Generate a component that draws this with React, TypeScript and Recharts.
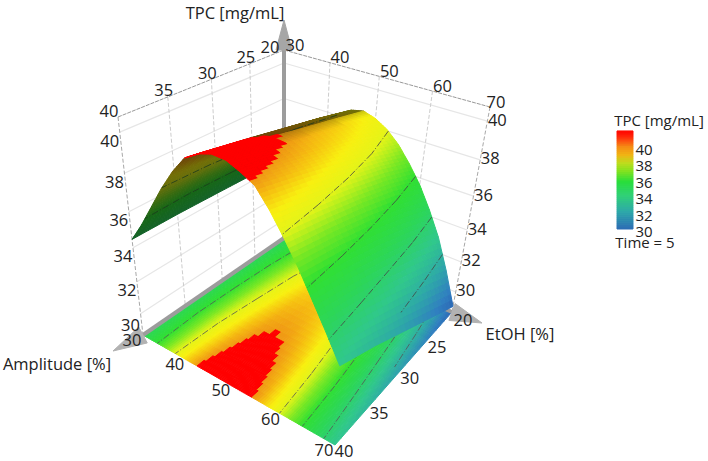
import { ScatterChart, Scatter, XAxis, YAxis } from "recharts";

const WIDTH = 708;
const HEIGHT = 461;

// Factors of the response surface
const amplitudeGrid = [30, 32.5, 35, 37.5, 40, 42.5, 45, 47.5, 50, 52.5, 55, 57.5, 60, 62.5, 65, 67.5, 70];
const etohGrid = [20, 25, 30, 35, 40];

// TPC, one list per EtOH level
const tpcE20 = [34.25, 35.2, 36.05, 36.87, 37.56, 38.1, 38.52, 38.67, 38.46, 38.06, 37.44, 36.59, 35.61, 34.37, 32.95, 31.1, 29.0];
const tpcE25 = [34.37, 35.45, 36.4, 37.25, 38.0, 38.58, 39.0, 39.12, 39.0, 38.67, 38.11, 37.33, 36.38, 35.17, 33.8, 32.1, 30.07];
const tpcE30 = [34.43, 35.62, 36.62, 37.55, 38.33, 38.96, 39.42, 39.55, 39.45, 39.15, 38.67, 37.9, 36.97, 35.84, 34.48, 32.95, 31.1];
const tpcE35 = [34.48, 35.72, 36.82, 37.85, 38.68, 39.38, 39.85, 40.02, 39.95, 39.68, 39.22, 38.41, 37.44, 36.38, 35.05, 33.68, 32.1];
const tpcE40 = [34.48, 35.55, 36.75, 37.95, 39.0, 39.85, 40.25, 40.45, 40.4, 40.1, 39.72, 38.87, 37.85, 36.75, 35.5, 34.25, 32.95];
const tpcRows = [tpcE20, tpcE25, tpcE30, tpcE35, tpcE40];

const amplitudeTicks = [30, 40, 50, 60, 70];
const etohTicks = [20, 25, 30, 35, 40];
const tpcTicks = [30, 32, 34, 36, 38, 40];
const contourLevels = [32, 34, 36, 38];
const legendTicks = [30, 32, 34, 36, 38, 40];

const Z_MIN = 28.6;
const Z_MAX = 40.7;
const RED_FROM = 39.8;

// Box corners on screen
const floorBox = { a30e20: [284, 238], a70e20: [452, 312], a30e40: [143, 335], a70e40: [335, 445] };
const topBox = { a30e20: [284, 50], a70e20: [490, 107], a30e40: [118, 117], a70e40: [350, 195] };

// Perspective foreshortening along each axis
const warp = (s: number, k: number) => s / (s + k * (1 - s));
const warpA = (a: number) => warp((a - 30) / 40, 1.161);
const warpE = (e: number) => warp((40 - e) / 20, 0.778);
const warpZ = (z: number) => warp((z - Z_MIN) / (Z_MAX - Z_MIN), 1.21);

const project = (a: number, e: number, z: number): [number, number] => {
  const u = warpA(a);
  const v = warpE(e);
  const f = warpZ(z);
  const mix = (box: typeof floorBox, i: number) =>
    (1 - u) * (1 - v) * box.a30e40[i] + u * (1 - v) * box.a70e40[i] + (1 - u) * v * box.a30e20[i] + u * v * box.a70e20[i];
  return [mix(floorBox, 0) * (1 - f) + mix(topBox, 0) * f, mix(floorBox, 1) * (1 - f) + mix(topBox, 1) * f];
};

type Stop = [number, number[]];

const surfaceStops: Stop[] = [
  [28.6, [42, 92, 176]],
  [30, [48, 128, 192]],
  [31.5, [46, 168, 168]],
  [33, [48, 200, 140]],
  [34.5, [44, 214, 90]],
  [36, [48, 224, 50]],
  [37, [120, 232, 36]],
  [38, [228, 244, 24]],
  [38.7, [248, 240, 16]],
  [39.3, [246, 192, 16]],
  [39.8, [240, 152, 20]],
];

const legendStops: Stop[] = [
  [30, [44, 110, 180]],
  [32, [46, 168, 170]],
  [34, [48, 208, 120]],
  [35.7, [40, 222, 60]],
  [37, [130, 226, 30]],
  [38, [190, 220, 30]],
  [39, [240, 180, 20]],
  [40, [246, 140, 20]],
  [41.2, [255, 40, 10]],
  [42, [255, 0, 0]],
];

const ramp = (table: Stop[], z: number, shade = 1) => {
  let c = table[table.length - 1][1];
  for (let i = 0; i < table.length - 1; i++) {
    const [z0, c0] = table[i];
    const [z1, c1] = table[i + 1];
    if (z <= z1) {
      const t = Math.max(0, (z - z0) / (z1 - z0));
      c = c0.map((v, k) => v + (c1[k] - v) * t);
      break;
    }
  }
  return `rgb(${c.map((v) => Math.round(v * shade)).join(",")})`;
};

// surface colours clip to pure red at the top of the range
const surfaceColor = (z: number, shade = 1) => (z >= RED_FROM ? "#ff0000" : ramp(surfaceStops, z, shade));

const lerp = (p: number, q: number, t: number) => p + (q - p) * t;

type Cell = { x: number; y: number; pts: number[][]; fill: string };
type Seg = { x: number; y: number; x2: number; y2: number; stroke: string; w: number; dash?: string };
type Txt = { x: number; y: number; text: string; size: number };

const PEAK = 7;

const slopeAt = (row: number[], i: number) => {
  const lo = Math.max(0, i - 1);
  const hi = Math.min(row.length - 1, i + 1);
  return (row[hi] - row[lo]) / (2.5 * (hi - lo));
};

// Split each grid cell so colour runs smoothly over the quad
const buildCells = (onFloor: boolean, from: number, to: number) => {
  const cells: Cell[] = [];
  const sub = 6;
  for (let i = from; i < to; i++) {
    for (let j = 0; j < etohGrid.length - 1; j++) {
      for (let si = 0; si < sub; si++) {
        for (let sj = 0; sj < sub; sj++) {
          const at = (p: number, q: number) => {
            const t = (si + p) / sub;
            const w = (sj + q) / sub;
            const z = lerp(lerp(tpcRows[j][i], tpcRows[j][i + 1], t), lerp(tpcRows[j + 1][i], tpcRows[j + 1][i + 1], t), w);
            const a = lerp(amplitudeGrid[i], amplitudeGrid[i + 1], t);
            const e = lerp(etohGrid[j], etohGrid[j + 1], w);
            return { z, pt: project(a, e, onFloor ? Z_MIN : z) };
          };
          const corners = [at(0, 0), at(1, 0), at(1, 1), at(0, 1)];
          const mid = at(0.5, 0.5);
          let shade = 1;
          if (!onFloor) {
            const slope = lerp(slopeAt(tpcRows[j], i), slopeAt(tpcRows[j], i + 1), (si + 0.5) / sub);
            shade = i < PEAK ? 0.46 : Math.min(1, 0.78 - Math.min(0, slope) * 2.5);
          }
          cells.push({ x: mid.pt[0], y: mid.pt[1], pts: corners.map((c) => c.pt), fill: surfaceColor(mid.z, shade) });
        }
      }
    }
  }
  return cells;
};

const floorCells = buildCells(true, 0, amplitudeGrid.length - 1);
const farCells = buildCells(false, 0, PEAK);
const nearCells = buildCells(false, PEAK, amplitudeGrid.length - 1);

const seg = (p: number[], q: number[], stroke: string, w: number, dash?: string): Seg => ({
  x: p[0], y: p[1], x2: q[0], y2: q[1], stroke, w, dash,
});

// Contours of the surface, walked along the EtOH rows
const contour = (level: number, side: "far" | "near", onFloor: boolean, stroke: string) => {
  const pts: number[][] = [];
  tpcRows.forEach((row, j) => {
    const start = side === "far" ? 0 : PEAK;
    const end = side === "far" ? PEAK : row.length - 1;
    for (let i = start; i < end; i++) {
      if ((row[i] - level) * (row[i + 1] - level) <= 0) {
        const t = (level - row[i]) / (row[i + 1] - row[i]);
        pts.push(project(lerp(amplitudeGrid[i], amplitudeGrid[i + 1], t), etohGrid[j], onFloor ? Z_MIN : level));
        break;
      }
    }
  });
  const out: Seg[] = [];
  for (let k = 0; k < pts.length - 1; k++) out.push(seg(pts[k], pts[k + 1], stroke, 0.8, "7 2 1 2"));
  return out;
};

const contours = (side: "far" | "near", onFloor: boolean, stroke: string) =>
  contourLevels.flatMap((l) => contour(l, side, onFloor, stroke));

// Walls behind the surface
const wallLines: Seg[] = [];
tpcTicks.forEach((z) => {
  wallLines.push(seg(project(30, 40, z), project(30, 20, z), "#e6e6e6", 1.2));
  wallLines.push(seg(project(30, 20, z), project(70, 20, z), "#e6e6e6", 1.2));
});
etohTicks.slice(1, -1).forEach((e) => wallLines.push(seg(project(30, e, Z_MAX), project(30, e, Z_MIN), "#cdcdcd", 1, "4 2")));
amplitudeTicks.slice(1, -1).forEach((a) => wallLines.push(seg(project(a, 20, Z_MAX), project(a, 20, Z_MIN), "#cdcdcd", 1, "4 2")));
wallLines.push(seg(project(30, 40, Z_MAX), project(30, 40, Z_MIN), "#a8a8a8", 1, "4 2"));
wallLines.push(seg(project(70, 20, Z_MAX), project(70, 20, Z_MIN), "#a8a8a8", 1, "4 2"));
wallLines.push(seg(project(30, 40, Z_MAX), project(30, 20, Z_MAX), "#999999", 1, "4 1"));
wallLines.push(seg(project(30, 20, Z_MAX), project(70, 20, Z_MAX), "#999999", 1, "4 1"));

const backBar = [seg(project(30, 20, Z_MIN), project(30, 20, Z_MAX), "#9c9c9c", 4)];
const edgeBar = [
  seg(project(30, 20, Z_MIN), project(30, 40, Z_MIN), "#9c9c9c", 4),
  seg(project(30, 20, Z_MIN), project(70, 20, Z_MIN), "#9c9c9c", 4),
];

// Arrow heads continue the three gray axes
const arrow = (base: number[], tip: number[], half: number, fill: string): Cell => {
  const dx = tip[0] - base[0];
  const dy = tip[1] - base[1];
  const len = Math.hypot(dx, dy);
  const nx = (-dy / len) * half;
  const ny = (dx / len) * half;
  return {
    x: base[0],
    y: base[1],
    pts: [[base[0] + nx, base[1] + ny], tip, [base[0] - nx, base[1] - ny]],
    fill,
  };
};
const arrows = [
  arrow(project(30, 20, Z_MAX), [284, 20], 8, "#a6a6a6"),
  arrow(project(30, 40, Z_MIN), [113, 351], 9, "#b2b2b2"),
  arrow(project(70, 20, Z_MIN), [482, 323], 9, "#b2b2b2"),
];

const shift = (p: number[], dx: number, dy: number) => ({ x: p[0] + dx, y: p[1] + dy });
const FS = 16.5;
const LEGEND_FS = 15;

const labels: Txt[] = [
  ...amplitudeTicks.map((a) => ({ ...shift(project(a, 40, Z_MIN), -11, 4), text: String(a), size: FS })),
  ...etohTicks.map((e) => ({ ...shift(project(70, e, Z_MIN), e === 20 ? 11 : 9, e === 40 ? 5 : 7), text: String(e), size: FS })),
  ...etohTicks.map((e, i) => ({
    ...shift(project(30, e, Z_MAX), i === 0 ? -14 : i === 4 ? -9 : -4, i === 0 ? -4 : -7),
    text: String(e), size: FS,
  })),
  ...amplitudeTicks.map((a, i) => ({
    ...shift(project(a, 20, Z_MAX), i === 0 ? 11 : i === 4 ? 6 : 10, -6),
    text: String(a), size: FS,
  })),
  ...tpcTicks.map((z) => ({ ...shift(project(30, 40, z), -10, z === 30 ? 11 : 8), text: String(z), size: FS })),
  ...tpcTicks.map((z) => ({ ...shift(project(70, 20, z), 10, -2), text: String(z), size: FS })),
  { x: 235, y: 12, text: "TPC [mg/mL]", size: FS },
  { x: 57, y: 363, text: "Amplitude [%]", size: FS },
  { x: 520, y: 333, text: "EtOH [%]", size: FS },
  { x: 659, y: 120, text: "TPC [mg/mL]", size: LEGEND_FS },
  ...legendTicks.map((v) => ({ x: 644, y: 231 - (v - 30) * 8.2, text: String(v), size: LEGEND_FS })),
  { x: 645, y: 242, text: "Time = 5", size: LEGEND_FS },
];

// Colour bar in the legend
const legendCells: Cell[] = [];
for (let v = 30; v < 42; v += 0.25) {
  const y0 = 229 - (v - 30) * 8.17;
  const y1 = 229 - (v + 0.25 - 30) * 8.17;
  legendCells.push({
    x: 625,
    y: (y0 + y1) / 2,
    pts: [[617, y0], [633, y0], [633, y1], [617, y1]],
    fill: ramp(legendStops, v),
  });
}

const CellShape = (props: any) => {
  const { cx, cy, payload } = props;
  const dx = cx - payload.x;
  const dy = cy - payload.y;
  const points = payload.pts.map((p: number[]) => `${p[0] + dx},${p[1] + dy}`).join(" ");
  return <polygon points={points} fill={payload.fill} stroke={payload.fill} strokeWidth={1} />;
};

const SegShape = (props: any) => {
  const { cx, cy, payload } = props;
  return (
    <line
      x1={cx}
      y1={cy}
      x2={cx + payload.x2 - payload.x}
      y2={cy + payload.y2 - payload.y}
      stroke={payload.stroke}
      strokeWidth={payload.w}
      strokeDasharray={payload.dash}
    />
  );
};

const TextShape = (props: any) => {
  const { cx, cy, payload } = props;
  return (
    <text x={cx} y={cy} textAnchor="middle" dominantBaseline="central" fontSize={payload.size} fontFamily="'Open Sans', 'Noto Sans', sans-serif" fill="#222222">
      {payload.text}
    </text>
  );
};

const App = () => {
  return (
    <div style={{ position: "absolute", left: 0, top: 0, width: WIDTH, height: HEIGHT, background: "#ffffff" }}>
      <ScatterChart width={WIDTH} height={HEIGHT} margin={{ top: 0, right: 0, bottom: 0, left: 0 }}>
        <XAxis type="number" dataKey="x" domain={[0, WIDTH]} hide />
        <YAxis type="number" dataKey="y" domain={[0, HEIGHT]} reversed hide />
        <Scatter data={wallLines} shape={SegShape} isAnimationActive={false} />
        <Scatter data={backBar} shape={SegShape} isAnimationActive={false} />
        <Scatter data={floorCells} shape={CellShape} isAnimationActive={false} />
        <Scatter data={contours("far", true, "#555555")} shape={SegShape} isAnimationActive={false} />
        <Scatter data={contours("near", true, "#555555")} shape={SegShape} isAnimationActive={false} />
        <Scatter data={edgeBar} shape={SegShape} isAnimationActive={false} />
        <Scatter data={arrows} shape={CellShape} isAnimationActive={false} />
        <Scatter data={farCells} shape={CellShape} isAnimationActive={false} />
        <Scatter data={contours("far", false, "#1c3a1c")} shape={SegShape} isAnimationActive={false} />
        <Scatter data={nearCells} shape={CellShape} isAnimationActive={false} />
        <Scatter data={contours("near", false, "#444444")} shape={SegShape} isAnimationActive={false} />
        <Scatter data={legendCells} shape={CellShape} isAnimationActive={false} />
        <Scatter data={labels} shape={TextShape} isAnimationActive={false} />
      </ScatterChart>
    </div>
  );
};

export default App;
